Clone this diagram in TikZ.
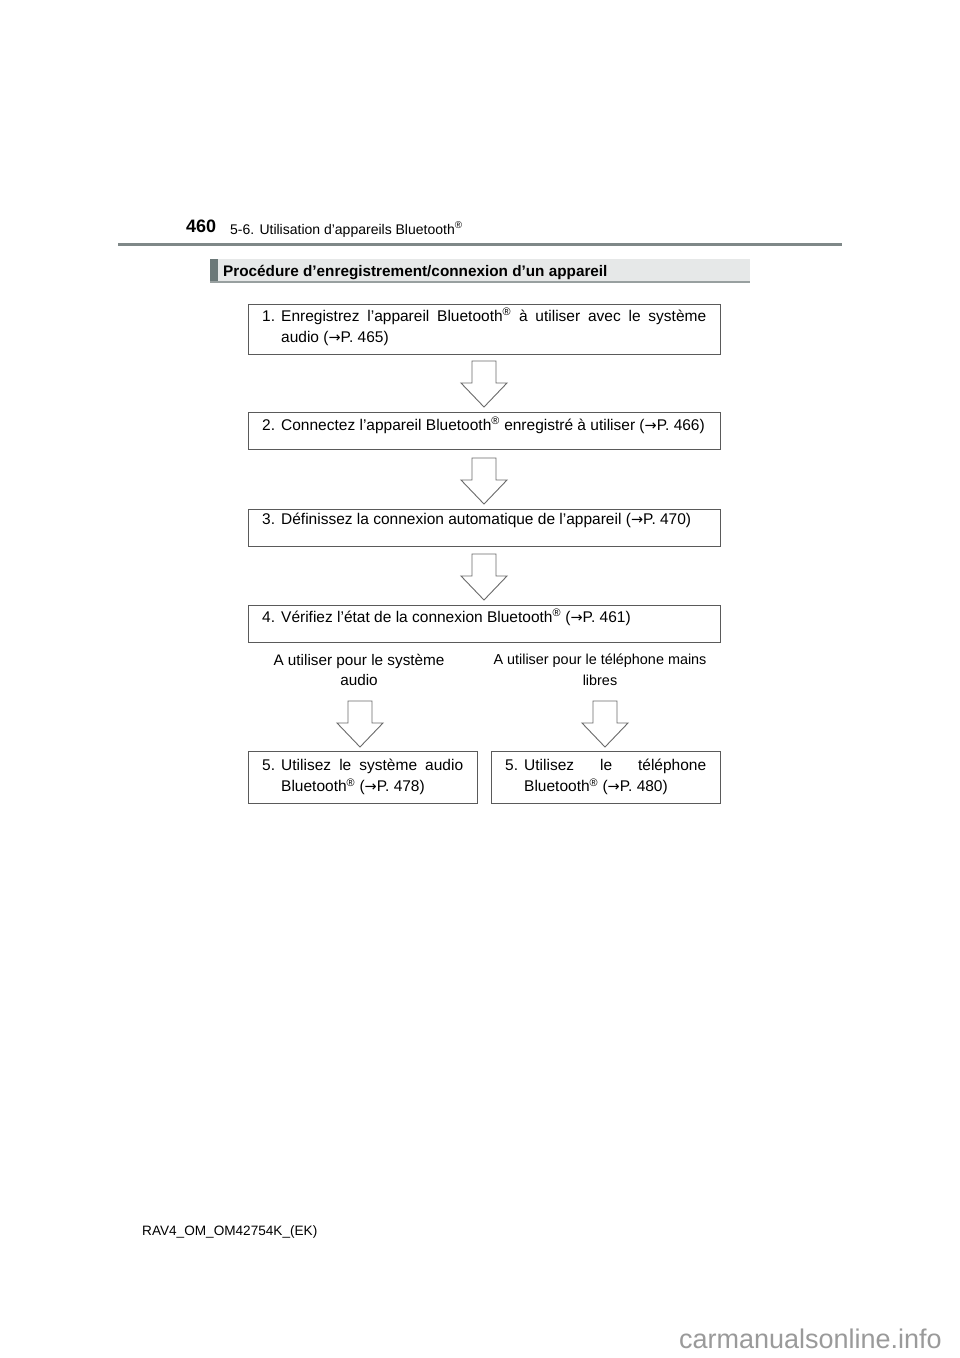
\documentclass[tikz,border=0pt]{standalone}
\usepackage{fontspec}
\setmainfont{Liberation Sans}
\newfontfamily\symf{DejaVu Sans}
\usetikzlibrary{calc}
\definecolor{boxline}{HTML}{5A5A5A}
\definecolor{arrline}{HTML}{6A6A6A}
\definecolor{barfill}{HTML}{E6E8E8}
\definecolor{bardark}{HTML}{6B7878}
\definecolor{rulec}{HTML}{7F8888}
\definecolor{wmark}{HTML}{9A9A9A}
\newcommand{\ar}{{\symf\fontsize{14.5}{14}\selectfont →}}
\newcommand{\reg}{\textsuperscript{®}}
\newcommand{\num}[1]{\makebox[19pt][l]{#1}}
\newcommand{\steptext}[2]{\parbox[t]{#1}{\fontsize{15.5}{21}\selectfont
  \parindent=0pt\hyphenpenalty=10000\exhyphenpenalty=10000
  \hangindent=19pt\hangafter=1 #2\par}}
\newcommand{\blockarrow}[3]{%
  \draw[arrow] (#2-12,#3) -- (#2+12,#3) -- (#2+12,#3+22) -- (#2+23,#3+22)
    -- (#2,#3+46) -- (#2-23,#3+22) -- (#2-12,#3+22) -- cycle;
  \coordinate (#1) at (#2,#3);}
\tikzset{
  box/.style={draw=boxline, line width=1.1pt, fill=white, anchor=north west, inner sep=0pt},
  txt/.style={anchor=north west, inner sep=0pt},
  arrow/.style={draw=arrline, line width=0.9pt, fill=white, line join=miter},
  lab/.style={align=center, inner sep=0pt, font=\fontsize{15.3}{20.5}\selectfont},
}
\begin{document}
\begin{tikzpicture}[x=1pt,y=-1pt]
\path[fill=white] (0,0) rectangle (960,1358);
\useasboundingbox (0,0) rectangle (960,1358);
% header
\node[anchor=base west, inner sep=0pt, font=\fontsize{18}{18}\selectfont\bfseries] (pg) at (186,232.5) {460};
\node[anchor=base west, inner sep=0pt, font=\fontsize{14}{14}\selectfont] (hd) at (230,234) {5-6. Utilisation d’appareils Bluetooth\reg};
\draw[rulec, line width=2.6pt] (118,244.5) coordinate (r1) -- (842,244.5) coordinate (r2);
% section heading
\fill[barfill] (210,258.5) rectangle (750,282);
\fill[bardark] (210,258.5) rectangle (217.5,282);
\draw[rulec!80, line width=1.6pt] (210,282) -- (750,282);
\node[anchor=base west, inner sep=0pt, font=\fontsize{15.3}{15.3}\selectfont\bfseries] (sec) at (223,276) {Procédure d’enregistrement/connexion d’un appareil};
% box 1
\node[box, minimum width=472, minimum height=50] (b1) at (248,304) {};
\node[txt] (t1) at (262,308) {\steptext{444pt}{\num{1.}Enregistrez l’appareil Bluetooth\reg{} à utiliser avec le système audio \mbox{(\ar P. 465)}}};
\blockarrow{a1}{484}{361}
% box 2
\node[box, minimum width=472, minimum height=37] (b2) at (248,412) {};
\node[txt] (t2) at (262,417) {\steptext{444pt}{\num{2.}Connectez l’appareil Bluetooth\reg{} enregistré à utiliser \mbox{(\ar P. 466)}}};
\blockarrow{a2}{484}{458}
% box 3
\node[box, minimum width=472, minimum height=37] (b3) at (248,509) {};
\node[txt] (t3) at (262,513) {\steptext{444pt}{\num{3.}Définissez la connexion automatique de l’appareil \mbox{(\ar P. 470)}}};
\blockarrow{a3}{484}{554}
% box 4
\node[box, minimum width=472, minimum height=37] (b4) at (248,605) {};
\node[txt] (t4) at (262,609) {\steptext{444pt}{\num{4.}Vérifiez l’état de la connexion Bluetooth\reg{} \mbox{(\ar P. 461)}}};
% labels
\node[lab, anchor=north] (l1) at (359,654) {A utiliser pour le système\\audio};
\node[lab, anchor=north, font=\fontsize{14.4}{20.5}\selectfont] (l2) at (600,654) {A utiliser pour le téléphone mains\\libres};
\blockarrow{a4}{360}{701}
\blockarrow{a5}{605}{701}
% box 5
\node[box, minimum width=229, minimum height=52] (b5) at (248,751) {};
\node[txt] (t5) at (262,759) {\steptext{201pt}{\num{5.}Utilisez le système audio Bluetooth\reg{} \mbox{(\ar P. 478)}}};
\node[box, minimum width=229, minimum height=52] (b6) at (491,751) {};
\node[txt] (t6) at (505,759) {\steptext{201pt}{\num{5.}Utilisez le téléphone Bluetooth\reg{} \mbox{(\ar P. 480)}}};
% footer
\node[anchor=base west, inner sep=0pt, font=\fontsize{13.6}{14}\selectfont] (ft) at (142,1235) {RAV4\_OM\_OM42754K\_(EK)};
\node[anchor=base east, inner sep=0pt, text=wmark, font=\fontsize{27}{27}\selectfont] (wm) at (942,1348) {carmanualsonline.info};
\end{tikzpicture}
\end{document}
